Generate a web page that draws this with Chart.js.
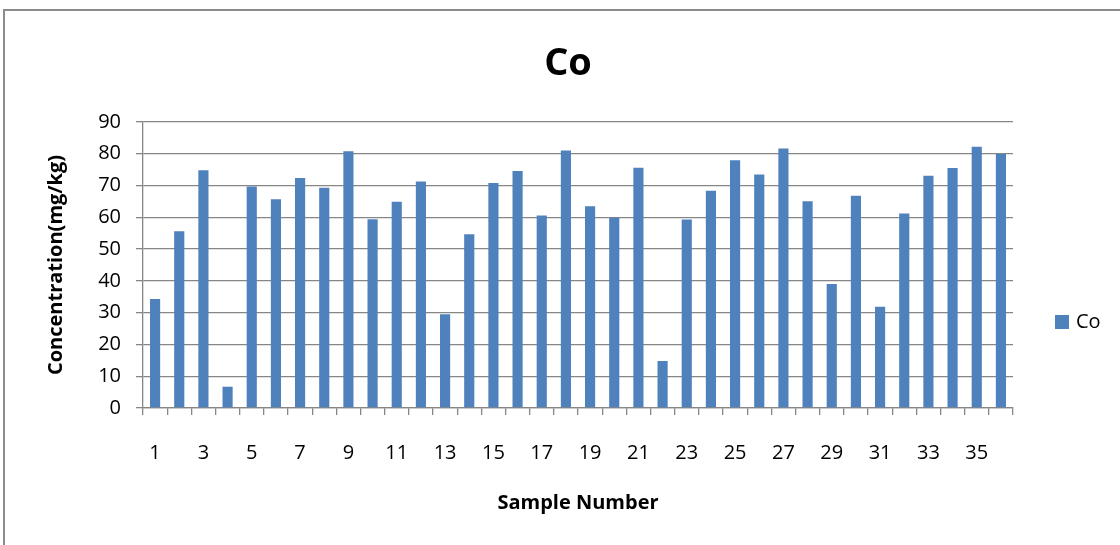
<!DOCTYPE html>
<html>
<head>
<meta charset="utf-8">
<script src="https://cdn.jsdelivr.net/npm/chart.js@4.4.1/dist/chart.umd.min.js"></script>
<style>
  html, body { margin: 0; padding: 0; background: #fff; }
  #wrap { width: 1120px; height: 545px; }
</style>
</head>
<body>
<div id="wrap"><canvas id="chartCanvas" width="1120" height="545"></canvas></div>
<script>
// sample numbers 1..36
const samples = [
  "1", "2", "3", "4", "5", "6", "7", "8", "9", "10", "11", "12",
  "13", "14", "15", "16", "17", "18", "19", "20", "21", "22", "23", "24",
  "25", "26", "27", "28", "29", "30", "31", "32", "33", "34", "35", "36"
];

// Co concentration (mg/kg)
const coValues = [
  34.3, 55.6, 74.8, 6.7, 69.7, 65.7, 72.4, 69.3, 80.8, 59.4, 64.9, 71.3,
  29.5, 54.7, 70.8, 74.6, 60.6, 81.0, 63.5, 59.9, 75.6, 14.8, 59.3, 68.4,
  78.0, 73.5, 81.7, 65.1, 39.0, 66.8, 31.9, 61.2, 73.1, 75.5, 82.2, 79.9
];

const yTicks = [0, 10, 20, 30, 40, 50, 60, 70, 80, 90];

const chartTitle = "Co";
const barColor = "#4F81BD";
const gridColor = "#868686";
const fontFamily = "'Open Sans', sans-serif";

// outer frame, title and legend
const framePlugin = {
  id: "frame",
  beforeDraw(chart) {
    const c = chart.ctx;
    c.save();
    c.fillStyle = "#fff";
    c.fillRect(0, 0, chart.width, chart.height);
    c.strokeStyle = "#8c8c8c";
    c.lineWidth = 2;
    c.strokeRect(4, 10, chart.width + 10, chart.height + 10);
    c.restore();
  },
  afterDraw(chart) {
    const c = chart.ctx;
    c.save();
    c.fillStyle = "#000";
    c.font = "bold 38px " + fontFamily;
    c.textAlign = "center";
    c.textBaseline = "alphabetic";
    c.fillText(chartTitle, 568, 75);

    c.fillStyle = barColor;
    c.fillRect(1055, 315, 14, 14);
    c.fillStyle = "#000";
    c.font = "20px " + fontFamily;
    c.textAlign = "left";
    c.textBaseline = "middle";
    c.fillText(chart.data.datasets[0].label, 1076, 322);
    c.restore();
  }
};

new Chart(document.getElementById("chartCanvas"), {
  type: "bar",
  data: {
    labels: samples,
    datasets: [{
      label: "Co",
      data: coValues,
      backgroundColor: barColor,
      borderWidth: 0,
      categoryPercentage: 1,
      barPercentage: 0.42
    }]
  },
  options: {
    responsive: false,
    animation: false,
    layout: { padding: { left: 42, right: 107, top: 122, bottom: 26 } },
    plugins: {
      legend: { display: false },
      tooltip: { enabled: false },
      title: { display: false }
    },
    scales: {
      x: {
        afterFit: (scale) => { scale.height = 111; },
        grid: {
          offset: true,
          drawOnChartArea: false,
          drawTicks: true,
          tickLength: 7,
          color: gridColor,
          lineWidth: 1.3
        },
        border: { color: gridColor, width: 1.3 },
        ticks: {
          autoSkip: false,
          maxRotation: 0,
          padding: 26,
          color: "#000",
          font: { family: fontFamily, size: 20 },
          callback: function (value, index) {
            return index % 2 === 0 ? samples[index] : "";
          }
        },
        title: {
          display: true,
          text: "Sample Number",
          color: "#000",
          font: { family: fontFamily, size: 20, weight: "bold" },
          padding: { top: 4, bottom: 4 }
        }
      },
      y: {
        min: yTicks[0],
        max: yTicks[yTicks.length - 1],
        afterFit: (scale) => { scale.width = 101; },
        afterBuildTicks: (scale) => {
          scale.ticks = yTicks.map((v) => ({ value: v }));
        },
        grid: {
          color: gridColor,
          lineWidth: 1.3,
          tickLength: 7
        },
        border: { color: gridColor, width: 1.3 },
        ticks: {
          padding: 15,
          color: "#000",
          font: { family: fontFamily, size: 20 }
        },
        title: {
          display: true,
          text: "Concentration(mg/kg)",
          color: "#000",
          font: { family: fontFamily, size: 20, weight: "bold" },
          padding: { top: 2, bottom: 4 }
        }
      }
    }
  },
  plugins: [framePlugin]
});
</script>
</body>
</html>
